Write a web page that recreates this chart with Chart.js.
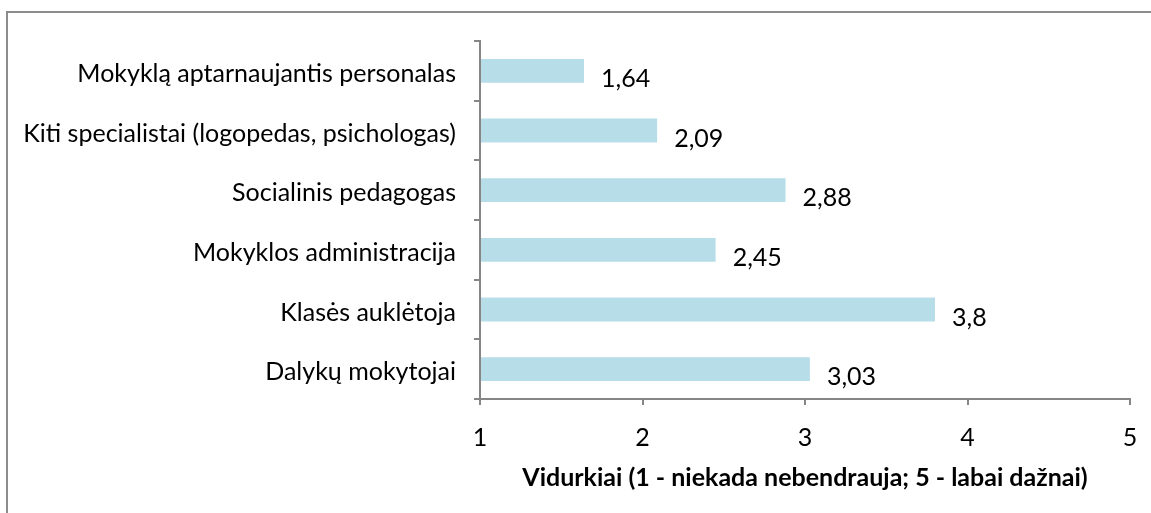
<!DOCTYPE html>
<html>
<head>
<meta charset="utf-8">
<script src="https://cdn.jsdelivr.net/npm/chart.js@4/dist/chart.umd.min.js"></script>
<style>
  html, body { margin: 0; padding: 0; background: #fff; overflow: hidden; }
  #frame { position: absolute; left: 6px; top: 11px; width: 1300px; height: 700px; border: 2px solid #8c8c8c; }
  #wrap { position: absolute; left: 0; top: 0; width: 1151px; height: 513px; }
</style>
</head>
<body>
<div id="frame"></div>
<div id="wrap"><canvas id="chart"></canvas></div>
<script>
// values
const categories = [
  "Mokyklą aptarnaujantis personalas",
  "Kiti specialistai (logopedas, psichologas)",
  "Socialinis pedagogas",
  "Mokyklos administracija",
  "Klasės auklėtoja",
  "Dalykų mokytojai"
];
const averages = [1.64, 2.09, 2.88, 2.45, 3.8, 3.03];
const xTicks = [1, 2, 3, 4, 5];
const axisTitle = "Vidurkiai (1 - niekada nebendrauja; 5 - labai dažnai)";

const FONT = "Lato, 'Open Sans', sans-serif";
const AXIS_GREY = "#868686";

// Excel-style value labels, a bit to the right and below the bar middle
const valueLabels = {
  id: "valueLabels",
  afterDatasetsDraw(chart) {
    const ctx = chart.ctx;
    const meta = chart.getDatasetMeta(0);
    ctx.save();
    ctx.font = "25px " + FONT;
    ctx.fillStyle = "#000";
    ctx.textAlign = "left";
    ctx.textBaseline = "middle";
    meta.data.forEach((bar, i) => {
      const txt = String(averages[i]).replace(".", ",");
      ctx.fillText(txt, bar.x + 17, bar.y + 8);
    });
    ctx.restore();
  }
};

const ctx = document.getElementById("chart").getContext("2d");
new Chart(ctx, {
  type: "bar",
  data: {
    labels: categories,
    datasets: [{
      data: averages,
      backgroundColor: "#b7dde8",
      borderWidth: 0,
      categoryPercentage: 1,
      barPercentage: 0.4,
      base: 1
    }]
  },
  options: {
    indexAxis: "y",
    responsive: true,
    maintainAspectRatio: false,
    animation: false,
    layout: { padding: { top: 41, right: 21, left: 0, bottom: 0 } },
    plugins: {
      legend: { display: false },
      tooltip: { enabled: false }
    },
    scales: {
      x: {
        min: 1,
        max: 5,
        afterBuildTicks: (scale) => { scale.ticks = xTicks.map(v => ({ value: v })); },
        afterFit: (scale) => {
          scale.height = 114;
          scale.paddingLeft = 0;
          scale.paddingRight = 0;
        },
        border: { color: AXIS_GREY, width: 2 },
        grid: { drawOnChartArea: false, color: AXIS_GREY, lineWidth: 2, tickLength: 6 },
        ticks: { color: "#000", font: { family: FONT, size: 25 }, padding: 18 },
        title: {
          display: true,
          text: axisTitle,
          color: "#000",
          font: { family: FONT, size: 25, weight: "bold" },
          padding: { top: 0, bottom: 20 }
        }
      },
      y: {
        afterFit: (scale) => {
          scale.width = 480;
          scale.paddingTop = 0;
          scale.paddingBottom = 0;
        },
        border: { color: AXIS_GREY, width: 2 },
        grid: { drawOnChartArea: false, color: AXIS_GREY, lineWidth: 2, tickLength: 6, offset: true },
        ticks: { color: "#000", font: { family: FONT, size: 25 }, padding: 18, labelOffset: 3 }
      }
    }
  },
  plugins: [valueLabels]
});
</script>
</body>
</html>
